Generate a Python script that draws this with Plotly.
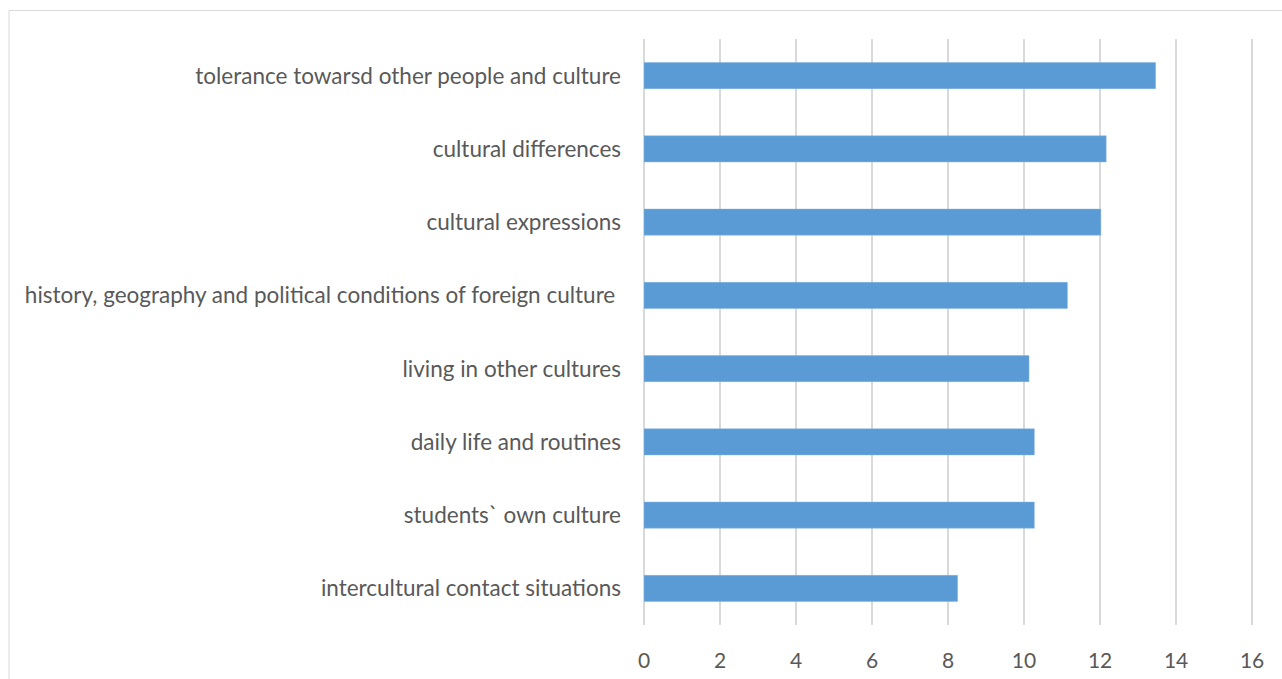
import plotly.graph_objects as go

categories = [
    "intercultural contact situations",
    "students` own culture",
    "daily life and routines",
    "living in other cultures",
    "history, geography and political conditions of foreign culture ",
    "cultural expressions",
    "cultural differences",
    "tolerance towarsd other people and culture",
]
values = [8.25, 10.27, 10.27, 10.13, 11.14, 12.02, 12.16, 13.46]
x_ticks = [0, 2, 4, 6, 8, 10, 12, 14, 16]

W, H = 1282, 679
L, R, T, B = 644, 28, 39, 54

fig = go.Figure(go.Bar(
    x=values, y=categories, orientation="h",
    marker=dict(color="#5b9bd5", line=dict(color="#7fb0de", width=0.5)),
    width=0.355,
))

fig.update_layout(
    width=W, height=H,
    margin=dict(l=L, r=R, t=T, b=B, autoexpand=False),
    paper_bgcolor="white", plot_bgcolor="white",
    showlegend=False,
    font=dict(family="Lato", size=22, color="#595959"),
    xaxis=dict(range=[0, 16.05], tickvals=x_ticks, showgrid=True,
               gridcolor="#d9d9d9", gridwidth=1.5, zeroline=True,
               zerolinecolor="#d9d9d9", zerolinewidth=1.5,
               showline=False, ticks="", ticklabelstandoff=21,
               automargin=False,
               tickfont=dict(size=21, color="#595959")),
    yaxis=dict(showgrid=False, zeroline=False, showline=False, ticks="",
               ticklabelstandoff=22, automargin=False,
               tickfont=dict(size=22.5, color="#595959"),
               range=[-0.5, 7.5]),
    shapes=[
        dict(type="line", xref="paper", yref="paper",
             x0=(9 - L) / (W - L - R), x1=(W + 20 - L) / (W - L - R),
             y0=(H - B - 10.5) / (H - T - B), y1=(H - B - 10.5) / (H - T - B),
             line=dict(color="#d9d9d9", width=1)),
        dict(type="line", xref="paper", yref="paper",
             x0=(9 - L) / (W - L - R), x1=(9 - L) / (W - L - R),
             y0=(H - B - 10.5) / (H - T - B), y1=-(B + 20) / (H - T - B),
             line=dict(color="#d9d9d9", width=1)),
    ],
)

fig.write_html("out.html")
